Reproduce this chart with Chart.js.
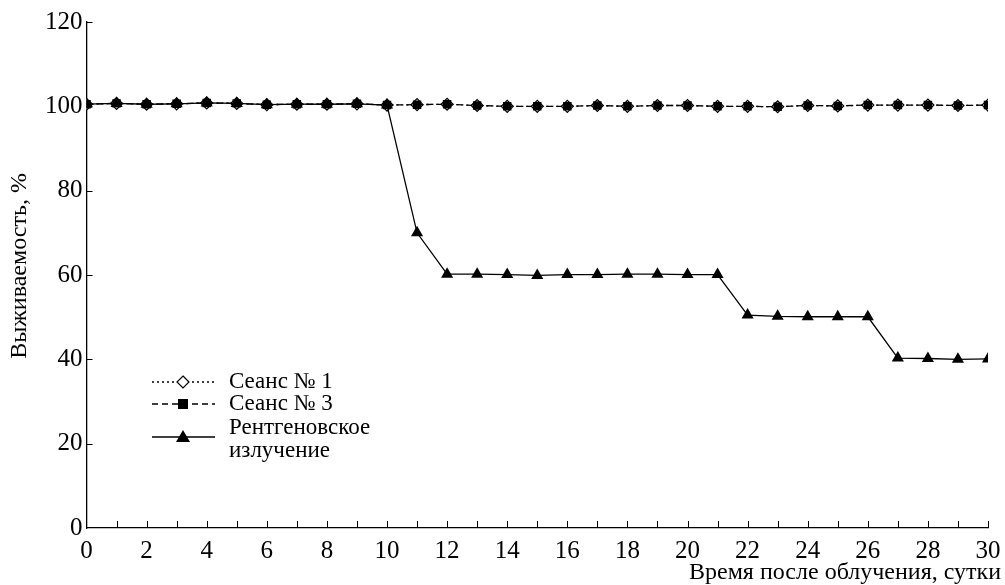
<!DOCTYPE html>
<html>
<head>
<meta charset="utf-8">
<script src="https://cdn.jsdelivr.net/npm/chart.js@4.4.1/dist/chart.umd.min.js"></script>
<style>
    html, body { margin: 0; padding: 0; background: #fff; }
    #wrap { width: 1005px; height: 585px; position: relative; }
</style>
</head>
<body>
<div id="wrap"><canvas id="survivalChart"></canvas></div>
<script>
// Выживаемость после облучения

const days = [0, 1, 2, 3, 4, 5, 6, 7, 8, 9, 10, 11, 12, 13, 14, 15, 16, 17, 18, 19, 20, 21, 22, 23, 24, 25, 26, 27, 28, 29, 30];

const session1 = [100.5, 100.7, 100.5, 100.6, 100.8, 100.7, 100.4, 100.5, 100.5, 100.6, 100.3, 100.4, 100.5, 100.2, 100.0, 100.0, 100.0, 100.2, 100.0, 100.2, 100.2, 100.0, 100.0, 99.9, 100.2, 100.1, 100.3, 100.3, 100.3, 100.2, 100.3];
const session3 = [100.5, 100.7, 100.5, 100.6, 100.8, 100.7, 100.4, 100.5, 100.5, 100.6, 100.3, 100.4, 100.5, 100.2, 100.0, 100.0, 100.0, 100.2, 100.0, 100.2, 100.2, 100.0, 100.0, 99.9, 100.2, 100.1, 100.3, 100.3, 100.3, 100.2, 100.3];
const xray = [100.5, 100.7, 100.5, 100.6, 100.8, 100.7, 100.4, 100.5, 100.5, 100.6, 100.3, 70.0, 60.2, 60.2, 60.1, 59.9, 60.1, 60.1, 60.2, 60.2, 60.1, 60.1, 50.5, 50.2, 50.1, 50.1, 50.1, 40.3, 40.2, 40.0, 40.1];

const yTicks = [0, 20, 40, 60, 80, 100, 120];
const xTitle = 'Время после облучения, сутки';
const yTitle = 'Выживаемость, %';
const legendItems = [
    { label: ['Сеанс № 1'], dash: [2, 3], marker: 'diamond' },
    { label: ['Сеанс № 3'], dash: [6, 4], marker: 'square' },
    { label: ['Рентгеновское', 'излучение'], dash: [], marker: 'triangle' }
];

const FONT = "'Liberation Serif', 'Times New Roman', Tinos, 'DejaVu Serif', serif";

function toPoints(arr) {
    return days.map((d, i) => ({ x: d, y: arr[i] }));
}

function drawMarker(ctx, type, x, y) {
    ctx.save();
    ctx.setLineDash([]);
    ctx.lineWidth = 1.2;
    ctx.strokeStyle = '#000';
    ctx.beginPath();
    if (type === 'diamond') {
        ctx.fillStyle = '#fff';
        ctx.moveTo(x, y - 6); ctx.lineTo(x + 6, y); ctx.lineTo(x, y + 6); ctx.lineTo(x - 6, y);
        ctx.closePath(); ctx.fill(); ctx.stroke();
    } else if (type === 'square') {
        ctx.fillStyle = '#000';
        ctx.rect(x - 5, y - 5, 10, 10); ctx.fill();
    } else {
        ctx.fillStyle = '#000';
        ctx.moveTo(x, y - 7); ctx.lineTo(x + 7, y + 5); ctx.lineTo(x - 7, y + 5);
        ctx.closePath(); ctx.fill();
    }
    ctx.restore();
}

// Внутренние засечки, подписи осей и легенда
const paperPlugin = {
    id: 'paper',
    afterDraw(chart) {
        const ctx = chart.ctx;
        const xs = chart.scales.x, ys = chart.scales.y;
        ctx.save();
        ctx.strokeStyle = '#000';
        ctx.lineWidth = 1;
        ctx.setLineDash([]);
        ctx.beginPath();
        days.forEach(d => {
            if (d === 0) return;
            const px = Math.round(xs.getPixelForValue(d)) + 0.5;
            ctx.moveTo(px, ys.bottom);
            ctx.lineTo(px, ys.bottom - 7);
        });
        yTicks.forEach(v => {
            if (v === 0) return;
            const py = Math.round(ys.getPixelForValue(v)) + 0.5;
            ctx.moveTo(xs.left, py);
            ctx.lineTo(xs.left + 6, py);
        });
        ctx.stroke();

        ctx.fillStyle = '#000';
        ctx.font = '24px ' + FONT;
        ctx.textBaseline = 'middle';
        ctx.textAlign = 'right';
        ctx.fillText(xTitle, 1001, 573);

        ctx.save();
        ctx.translate(20, 266);
        ctx.rotate(-Math.PI / 2);
        ctx.textAlign = 'center';
        ctx.fillText(yTitle, 0, 0);
        ctx.restore();

        // легенда
        const rows = [382, 404, 437];
        ctx.font = '23px ' + FONT;
        ctx.textAlign = 'left';
        legendItems.forEach((item, i) => {
            const y = rows[i];
            ctx.beginPath();
            ctx.setLineDash(item.dash);
            ctx.lineWidth = 1.3;
            ctx.moveTo(152, y);
            ctx.lineTo(215, y);
            ctx.stroke();
            drawMarker(ctx, item.marker, 183, y);
            if (item.label.length === 1) {
                ctx.fillText(item.label[0], 229, y);
            } else {
                ctx.fillText(item.label[0], 229, y - 9);
                ctx.fillText(item.label[1], 229, y + 14);
            }
        });
        ctx.restore();
    }
};

const chart = new Chart(document.getElementById('survivalChart'), {
    type: 'line',
    data: {
        datasets: [{
            label: 'Сеанс № 1',
            data: toPoints(session1),
            borderColor: '#000',
            borderWidth: 1.3,
            borderDash: [2, 3],
            pointStyle: 'rectRot',
            pointRadius: 6,
            pointBackgroundColor: '#fff',
            pointBorderColor: '#000',
            pointBorderWidth: 1.2,
            order: 3
        }, {
            label: 'Сеанс № 3',
            data: toPoints(session3),
            borderColor: '#000',
            borderWidth: 1.3,
            borderDash: [6, 4],
            pointStyle: 'rect',
            pointRadius: 6,
            pointBackgroundColor: '#000',
            pointBorderColor: '#000',
            pointBorderWidth: 0,
            order: 2
        }, {
            label: 'Рентгеновское излучение',
            data: toPoints(xray),
            borderColor: '#000',
            borderWidth: 1.3,
            pointStyle: 'triangle',
            pointRadius: 7,
            pointBackgroundColor: '#000',
            pointBorderColor: '#000',
            pointBorderWidth: 0,
            order: 1
        }]
    },
    options: {
        responsive: true,
        maintainAspectRatio: false,
        animation: false,
        layout: { padding: { top: 22, right: 17, left: 41, bottom: 11 } },
        plugins: {
            legend: { display: false },
            tooltip: { enabled: false }
        },
        scales: {
            x: {
                type: 'linear',
                min: 0,
                max: 30,
                afterBuildTicks: axis => { axis.ticks = days.map(v => ({ value: v })); },
                afterFit: axis => { axis.paddingRight = 0; },
                ticks: {
                    autoSkip: false,
                    maxRotation: 0,
                    padding: 8,
                    color: '#000',
                    font: { family: FONT, size: 25 },
                    callback: v => (v % 2 === 0 ? String(v) : '')
                },
                grid: { display: false, drawTicks: false },
                border: { display: true, color: '#000', width: 1.3 }
            },
            y: {
                min: 0,
                max: 120,
                afterBuildTicks: axis => { axis.ticks = yTicks.map(v => ({ value: v })); },
                ticks: {
                    color: '#000',
                    padding: 4,
                    font: { family: FONT, size: 25 }
                },
                grid: { display: false, drawTicks: false },
                border: { display: true, color: '#000', width: 1.3 }
            }
        }
    },
    plugins: [paperPlugin]
});

if (document.fonts && document.fonts.ready) {
    document.fonts.ready.then(() => chart.update());
}
</script>
</body>
</html>
